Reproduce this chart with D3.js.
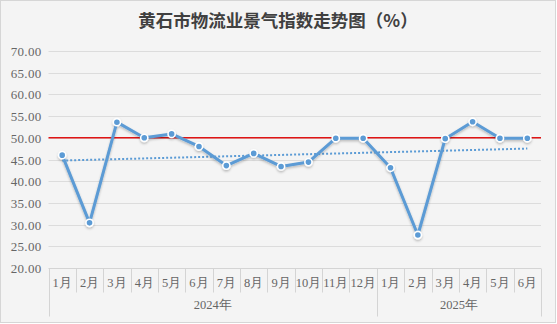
<!DOCTYPE html>
<html>
<head>
<meta charset="utf-8">
<script src="https://cdn.jsdelivr.net/npm/d3@7"></script>
<style>
  html, body { margin: 0; padding: 0; background: #ffffff; }
  svg { display: block; }
  .lbl { font-family: "Liberation Serif", "DejaVu Serif", serif; fill: #666666; }
</style>
</head>
<body>
<svg id="chart" width="557" height="324"></svg>
<script>
// Monthly logistics prosperity index, Huangshi
const months = ["1月","2月","3月","4月","5月","6月","7月","8月","9月","10月","11月","12月",
                "1月","2月","3月","4月","5月","6月"];
const years = ["2024年", "2025年"];
const yearSpans = [12, 6];
const indexValues = [46.0, 30.4, 53.6, 50.0, 50.9, 48.0, 43.6, 46.4, 43.4, 44.4, 49.9, 49.9,
                     43.1, 27.6, 49.8, 53.7, 49.9, 49.9];
const thresholdValue = 50;
const yTicks = [20, 25, 30, 35, 40, 45, 50, 55, 60, 65, 70];
const titleText = "黄石市物流业景气指数走势图（%）";

const plot = { left: 48.5, right: 541, top: 51, bottom: 268 };

const svg = d3.select("#chart");

// drop shadow for the series line
const defs = svg.append("defs");
const f = defs.append("filter").attr("id", "shadow")
  .attr("x", "-10%").attr("y", "-10%").attr("width", "120%").attr("height", "130%");
f.append("feDropShadow").attr("dx", 0).attr("dy", 1.5).attr("stdDeviation", 1)
  .attr("flood-color", "#000").attr("flood-opacity", 0.25);

// chart area background and frame
svg.append("rect").attr("x", 0.5).attr("y", 0.5).attr("width", 555).attr("height", 322)
  .attr("fill", "#f4f4f4").attr("stroke", "#d6d6d6").attr("stroke-width", 1);

const idx = d3.range(months.length);
const x = d3.scaleBand().domain(idx).range([plot.left, plot.right]).padding(0);
const y = d3.scaleLinear().domain([20, 70]).range([plot.bottom, plot.top]);
const cx = i => x(i) + x.bandwidth() / 2;

// horizontal gridlines
svg.append("g").selectAll("line").data(yTicks.filter(t => t > 20)).join("line")
  .attr("x1", plot.left).attr("x2", plot.right)
  .attr("y1", d => Math.round(y(d)) + 0.5).attr("y2", d => Math.round(y(d)) + 0.5)
  .attr("stroke", "#dcdcdc").attr("stroke-width", 1);

// y axis labels
const yAxis = d3.axisLeft(y).tickValues(yTicks).tickFormat(d3.format(".2f")).tickSize(0).tickPadding(0);
const gy = svg.append("g").attr("transform", `translate(${plot.left - 7},0)`).call(yAxis);
gy.select(".domain").remove();
gy.attr("font-family", null).attr("font-size", null);
gy.selectAll("text").attr("class", "lbl").attr("fill", null)
  .style("font-size", "13px").style("letter-spacing", "0.3px").attr("dy", "0.35em");

// category axis: month row, year row
const axisColor = "#d4d4d4";
const axisG = svg.append("g");
const rowTop = plot.bottom + 0.5;
const monthBottom = 292.5;
const yearBottom = 316.5;
axisG.append("line").attr("x1", plot.left).attr("x2", plot.right)
  .attr("y1", rowTop).attr("y2", rowTop).attr("stroke", axisColor);
// month separators, the one between years runs through both rows
d3.range(1, months.length).forEach(i => {
  const xx = Math.round(x(i)) + 0.5;
  const isYearEdge = i === yearSpans[0];
  axisG.append("line").attr("x1", xx).attr("x2", xx)
    .attr("y1", rowTop).attr("y2", isYearEdge ? yearBottom : monthBottom)
    .attr("stroke", axisColor);
});
[plot.left, plot.right].forEach(xv => {
  const xx = Math.round(xv) + 0.5;
  axisG.append("line").attr("x1", xx).attr("x2", xx)
    .attr("y1", rowTop).attr("y2", yearBottom).attr("stroke", axisColor);
});
axisG.selectAll("text.m").data(months).join("text").attr("class", "lbl")
  .attr("x", (d, i) => cx(i)).attr("y", 283).attr("dy", "0.35em")
  .attr("text-anchor", "middle").style("font-size", "12.5px").text(d => d);
let start = 0;
years.forEach((yr, k) => {
  const a = x(start), b = x(start + yearSpans[k] - 1) + x.bandwidth();
  axisG.append("text").attr("class", "lbl").attr("x", (a + b) / 2).attr("y", 305).attr("dy", "0.35em")
    .attr("text-anchor", "middle").style("font-size", "12.5px").text(yr);
  start += yearSpans[k];
});

// threshold line at 50
svg.append("line").attr("x1", plot.left).attr("x2", plot.right)
  .attr("y1", y(thresholdValue)).attr("y2", y(thresholdValue))
  .attr("stroke", "#e01414").attr("stroke-width", 1.5);

// linear trend line (least squares over the series)
const n = indexValues.length;
const mx = d3.mean(idx), my = d3.mean(indexValues);
const sxy = d3.sum(idx, i => (i - mx) * (indexValues[i] - my));
const sxx = d3.sum(idx, i => (i - mx) ** 2);
const slope = sxy / sxx, icpt = my - slope * mx;
svg.append("line")
  .attr("x1", cx(0)).attr("y1", y(icpt))
  .attr("x2", cx(n - 1)).attr("y2", y(icpt + slope * (n - 1)))
  .attr("stroke", "#5b9bd5").attr("stroke-width", 2)
  .attr("stroke-dasharray", "2 2");

// main series
const line = d3.line().x((d, i) => cx(i)).y(d => y(d));
const sg = svg.append("g").attr("filter", "url(#shadow)");
sg.append("path").datum(indexValues).attr("d", line)
  .attr("fill", "none").attr("stroke", "#5b9bd5").attr("stroke-width", 3)
  .attr("stroke-linejoin", "round");
sg.selectAll("circle").data(indexValues).join("circle")
  .attr("cx", (d, i) => cx(i)).attr("cy", d => y(d)).attr("r", 3.6)
  .attr("fill", "#5b9bd5").attr("stroke", "#ffffff").attr("stroke-width", 1.6);

// title
svg.append("text").attr("x", 278).attr("y", 21).attr("dy", "0.35em")
  .attr("text-anchor", "middle")
  .attr("font-family", "'Noto Sans CJK SC', sans-serif").attr("font-weight", 700)
  .attr("font-size", 17.5).attr("fill", "#404040").text(titleText);
</script>
</body>
</html>
